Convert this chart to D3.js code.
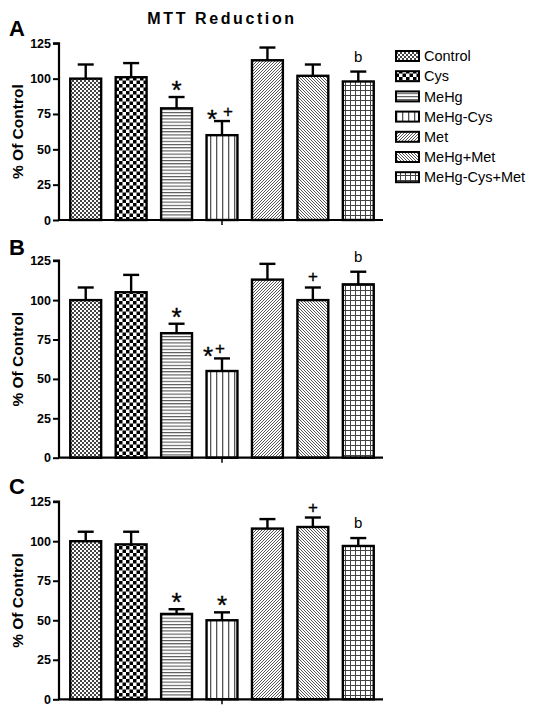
<!DOCTYPE html>
<html><head><meta charset="utf-8">
<script src="https://cdn.jsdelivr.net/npm/d3@7"></script>
<style>body{margin:0;background:#fff;} svg{display:block;font-family:Arial,"Liberation Sans",sans-serif;}</style>
</head><body>
<svg id="c" width="537" height="717"></svg>
<script>
const categories = ["Control","Cys","MeHg","MeHg-Cys","Met","MeHg+Met","MeHg-Cys+Met"];
const panelLabels = ["A","B","C"];
const meansA = [100,101,79,60,113,102,98];
const errA   = [10,10,8,10,9,8,7];
const marksA = ["","","*","* +","","","b"];
const meansB = [100,105,79,55,113,100,110];
const errB   = [8,11,6,8,10,8,8];
const marksB = ["","","*","*+","","+","b"];
const meansC = [100,98,54,50,108,109,97];
const errC   = [6,8,3,5,6,6,5];
const marksC = ["","","*","*","","+","b"];
const yTicks = [0,25,50,75,100,125];
const title = "MTT Reduction";
const yLabel = "% Of Control";

const svg = d3.select("#c");
const defs = svg.append("defs");
function pat(id,w,h,draw){
  const p = defs.append("pattern").attr("id",id).attr("patternUnits","userSpaceOnUse").attr("width",w).attr("height",h);
  p.append("rect").attr("width",w).attr("height",h).attr("fill","#fff");
  draw(p);
}
pat("p0",4,4,p=>{p.append("rect").attr("width",2).attr("height",2).attr("fill","#444");p.append("rect").attr("x",2).attr("y",2).attr("width",2).attr("height",2).attr("fill","#444");});
pat("p1",7,7,p=>{p.append("rect").attr("width",3.5).attr("height",3.5).attr("fill","#000");p.append("rect").attr("x",3.5).attr("y",3.5).attr("width",3.5).attr("height",3.5).attr("fill","#000");});
pat("p2",4,3.2,p=>{p.append("rect").attr("width",4).attr("height",1.1).attr("fill","#555");});
pat("p3",6,4,p=>{p.append("rect").attr("width",1.3).attr("height",4).attr("fill","#555");});
pat("p4",3,3,p=>{p.append("path").attr("d","M-1,1 L1,-1 M0,3 L3,0 M2,4 L4,2").attr("stroke","#444").attr("stroke-width",0.9);});
pat("p5",3,3,p=>{p.append("path").attr("d","M-1,2 L1,4 M0,0 L3,3 M2,-1 L4,1").attr("stroke","#444").attr("stroke-width",0.9);});
pat("p6",5,5,p=>{p.append("rect").attr("width",5).attr("height",1).attr("fill","#444");p.append("rect").attr("width",1).attr("height",5).attr("fill","#444");});

const x = d3.scaleBand().domain(categories).range([63,381]).paddingInner(0.32).paddingOuter(0.16);
const panels = [
  {means:meansA, err:errA, marks:marksA, top:43.3, bot:220, labY:36},
  {means:meansB, err:errB, marks:marksB, top:260.7, bot:457.7, labY:255},
  {means:meansC, err:errC, marks:marksC, top:501.7, bot:699.3, labY:494}
];
function mark(g,xp,yp,fs,txt){
  return g.append("text").attr("x",xp).attr("y",yp).attr("text-anchor","middle").attr("font-size",fs)
    .attr("fill","#000").attr("stroke","#000").attr("stroke-width",0.35).text(txt);
}
panels.forEach((P,pi)=>{
  P.lab = panelLabels[pi];
  const y = d3.scaleLinear().domain([0,125]).range([P.bot,P.top]);
  const g = svg.append("g");
  g.selectAll("rect.bar").data(categories).enter().append("rect")
    .attr("x",d=>x(d)).attr("width",x.bandwidth())
    .attr("y",(d,i)=>y(P.means[i])).attr("height",(d,i)=>P.bot-y(P.means[i]))
    .attr("fill",(d,i)=>"url(#p"+i+")").attr("stroke","#000").attr("stroke-width",2.4);
  categories.forEach((d,i)=>{
    const cx = x(d)+x.bandwidth()/2;
    const yt = y(P.means[i]+P.err[i]);
    g.append("line").attr("x1",cx).attr("x2",cx).attr("y1",y(P.means[i])).attr("y2",yt).attr("stroke","#000").attr("stroke-width",2.4);
    g.append("line").attr("x1",cx-8).attr("x2",cx+8).attr("y1",yt).attr("y2",yt).attr("stroke","#000").attr("stroke-width",2.4);
    const m = P.marks[i];
    if(!m) return;
    if(m==="b"){
      g.append("text").attr("x",cx).attr("y",yt-10).attr("text-anchor","middle").attr("font-size",15).text(m);
    } else if(m==="+"){
      mark(g,cx,yt-5,17,"+");
    } else if(m==="*"){
      mark(g,cx,yt+2,26,"*");
    } else {
      const wide = m.includes(" ");
      mark(g,cx+(wide?-10:-14),yt+7,26,"*");
      mark(g,cx+(wide?6:-2),yt-4,17,"+");
    }
  });
  const ya = g.append("g").attr("transform","translate(59,0)").call(d3.axisLeft(y).tickValues(yTicks).tickSize(6).tickPadding(2));
  ya.select(".domain").attr("stroke-width",2.2).attr("d",`M-6,${P.top}H0V${P.bot}`);
  ya.selectAll(".tick line").attr("stroke-width",2);
  ya.selectAll("text").attr("font-size",12.5).attr("font-weight","bold").attr("fill","#000");
  g.append("line").attr("x1",58).attr("x2",383).attr("y1",P.bot).attr("y2",P.bot).attr("stroke","#000").attr("stroke-width",2.2);
  const mid = x(categories[3])+x.bandwidth()/2;
  g.append("line").attr("x1",mid).attr("x2",mid).attr("y1",P.bot).attr("y2",P.bot+5).attr("stroke","#000").attr("stroke-width",1.5);
  const cy = (P.top+P.bot)/2;
  g.append("text").attr("transform",`translate(23,${cy}) rotate(-90)`).attr("text-anchor","middle")
    .attr("font-size",15.5).attr("font-weight","bold").text(yLabel);
  g.append("text").attr("x",9).attr("y",P.labY).attr("font-size",22).attr("font-weight","bold").text(P.lab);
});
svg.append("text").attr("x",222).attr("y",24).attr("text-anchor","middle").attr("font-size",16)
  .attr("font-weight","bold").attr("letter-spacing",2.6).text(title);
const lg = svg.append("g");
categories.forEach((c,i)=>{
  const yy = 56 + i*20.2;
  lg.append("rect").attr("x",396).attr("y",yy-5).attr("width",23).attr("height",10)
    .attr("fill","url(#p"+i+")").attr("stroke","#000").attr("stroke-width",2);
  lg.append("text").attr("x",424).attr("y",yy).attr("dy","0.36em").attr("font-size",14.5).text(c);
});
</script>
</body></html>
